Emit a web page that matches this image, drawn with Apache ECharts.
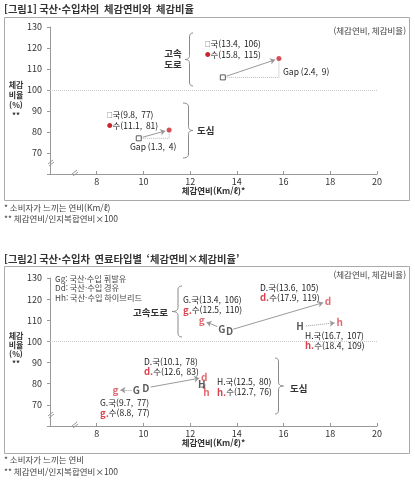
<!DOCTYPE html>
<html lang="ko">
<head>
<meta charset="UTF-8">
<title>국산·수입차 체감연비와 체감비율</title>
<script src="https://cdn.jsdelivr.net/npm/echarts@6.0.0/dist/echarts.min.js"></script>
<style>
    html, body { margin: 0; padding: 0; background: #fff; }
    #chart { width: 415px; height: 480px; }
</style>
</head>
<body>
<div id="chart"></div>
<script>
    // 축 눈금
    var xTicks = [6, 8, 10, 12, 14, 16, 18, 20];
    var yTicks = [60, 70, 80, 90, 100, 110, 120, 130];

    // 그림1 : [체감연비, 체감비율]  (고속도로, 도심)
    var fig1Dom = [[13.4, 106], [9.8, 77]];
    var fig1Imp = [[15.8, 115], [11.1, 81]];

    // 그림2 : 연료타입별 (G 휘발유, D 경유, H 하이브리드)
    var fuelDom = ['G', 'D', 'H'];
    var fuelImp = ['g', 'd', 'h'];
    var fuelNames = ['휘발유', '경유', '하이브리드'];
    var hwyDom = [[13.4, 106], [13.6, 105], [16.7, 107]];
    var hwyImp = [[12.5, 110], [17.9, 119], [18.4, 109]];
    var cityDom = [[9.7, 77], [10.1, 78], [12.5, 80]];
    var cityImp = [[8.8, 77], [12.6, 83], [12.7, 76]];

    var FONT = '"Noto Sans CJK KR", "Noto Sans", sans-serif';
    var RED = '#c9252d';
    var LRED = '#d9434e';
    var INK = '#222';
    var GRAY = '#999';

    var chart = echarts.init(document.getElementById('chart'));

    function xAxisOf(i) {
        return {
            gridIndex: i, type: 'value',
            min: xTicks[0], max: xTicks[xTicks.length - 1], interval: xTicks[1] - xTicks[0],
            name: '체감연비(Km/ℓ)*', nameLocation: 'middle', nameGap: 13,
            nameTextStyle: {fontFamily: FONT, fontSize: 8.5, fontWeight: 'bold', color: '#333'},
            axisLine: {lineStyle: {color: GRAY}},
            axisTick: {inside: true, length: 3, lineStyle: {color: GRAY}},
            axisLabel: {
                fontFamily: FONT, fontSize: 9, color: '#333', margin: 3,
                formatter: function (v) { return v === xTicks[0] ? '' : v; }
            },
            splitLine: {show: false}
        };
    }
    function yAxisOf(i) {
        return {
            gridIndex: i, type: 'value',
            min: yTicks[0], max: yTicks[yTicks.length - 1], interval: yTicks[1] - yTicks[0],
            axisLine: {show: true, lineStyle: {color: GRAY}},
            axisTick: {show: true, length: 3, lineStyle: {color: GRAY}},
            axisLabel: {
                fontFamily: FONT, fontSize: 9, color: '#333', margin: 8,
                formatter: function (v) { return v === yTicks[0] ? '' : v; }
            },
            splitLine: {show: false}
        };
    }

    var line100 = {
        silent: true, symbol: 'none', label: {show: false},
        lineStyle: {type: 'dotted', color: '#c8c8c8', width: 1},
        data: [{yAxis: 100}]
    };

    function fmt(p) { return '(' + p[0].toFixed(1) + ',  ' + p[1] + ')'; }

    // 그림2 글자 표식
    var nudge = {G: -1, D: 2};
    function letters(pts, names, red, gi, useNudge) {
        return {
            type: 'scatter', xAxisIndex: gi, yAxisIndex: gi, z: 5,
            symbolSize: 8, itemStyle: {color: 'rgba(0,0,0,0)'},
            label: {
                show: true, position: 'inside', formatter: '{b}',
                fontFamily: FONT, fontSize: 10, fontWeight: 'bold',
                color: red ? LRED : '#333'
            },
            data: pts.map(function (p, k) {
                var d = {name: names[k], value: p};
                if (useNudge && nudge[names[k]]) d.label = {offset: [nudge[names[k]], 0]};
                return d;
            })
        };
    }

    var series = [
        {
            type: 'scatter', xAxisIndex: 0, yAxisIndex: 0, z: 5,
            symbol: 'rect', symbolSize: 5,
            itemStyle: {color: '#fff', borderColor: '#333', borderWidth: 1},
            data: fig1Dom
        },
        {
            type: 'scatter', xAxisIndex: 0, yAxisIndex: 0, z: 5,
            symbol: 'circle', symbolSize: 5,
            itemStyle: {color: RED},
            data: fig1Imp,
            markLine: line100
        },
        letters(hwyDom, fuelDom, false, 1, true),
        letters(hwyImp, fuelImp, true, 1, false),
        letters(cityDom, fuelDom, false, 1, false),
        letters(cityImp, fuelImp, true, 1, false),
        {
            type: 'scatter', xAxisIndex: 1, yAxisIndex: 1, data: [],
            markLine: line100
        }
    ];

    // 괄호 (polyline 으로 곡선 근사)
    function quad(pts, a, c, b) {
        for (var i = 1; i <= 6; i++) {
            var t = i / 6, u = 1 - t;
            pts.push([u * u * a[0] + 2 * u * t * c[0] + t * t * b[0],
                      u * u * a[1] + 2 * u * t * c[1] + t * t * b[1]]);
        }
    }
    function brace(xe, xs, xt, y1, y2) {
        var ym = (y1 + y2) / 2, r = 4;
        var pts = [[xe, y1]];
        quad(pts, [xe, y1], [xs, y1], [xs, y1 + r]);
        pts.push([xs, ym - r]);
        quad(pts, [xs, ym - r], [xs, ym], [xt, ym]);
        quad(pts, [xt, ym], [xs, ym], [xs, ym + r]);
        pts.push([xs, y2 - r]);
        quad(pts, [xs, y2 - r], [xs, y2], [xe, y2]);
        return {type: 'polyline', shape: {points: pts}, style: {fill: null, stroke: '#8a8a8a', lineWidth: 1}};
    }
    function breakMark(x, y) {
        return {
            type: 'group', x: x, y: y,
            children: [
                {type: 'line', shape: {x1: -3, y1: 1, x2: 2, y2: -3}, style: {stroke: '#999', lineWidth: 1}},
                {type: 'line', shape: {x1: -2, y1: 3, x2: 3, y2: -1}, style: {stroke: '#999', lineWidth: 1}}
            ]
        };
    }
    function txt(x, y, text, o) {
        o = o || {};
        var st = {
            text: text, fontFamily: FONT, fontSize: o.size || 8.5,
            fontWeight: o.bold ? 'bold' : 'normal', fill: o.color || INK,
            align: o.align || 'left', verticalAlign: 'middle'
        };
        if (o.lh) st.lineHeight = o.lh;
        if (o.rich) st.rich = o.rich;
        return {type: 'text', x: x, y: y, z: 10, style: st};
    }
    var richSym = {
        sq: {fontFamily: FONT, fontSize: 5.5, fill: '#333'},
        dot: {fontFamily: FONT, fontSize: 5.5, fill: RED},
        r: {fontFamily: FONT, fontSize: 9.5, fontWeight: 'bold', fill: LRED}
    };
    function gap(a, b) {
        return 'Gap (' + (b[0] - a[0]).toFixed(1) + ',  ' + (b[1] - a[1]) + ')';
    }

    var graphic = [
        {type: 'rect', shape: {x: 4.5, y: 17.5, width: 405, height: 183}, style: {fill: null, stroke: '#aaa', lineWidth: 1}},
        {type: 'rect', shape: {x: 4.5, y: 266.5, width: 405, height: 187}, style: {fill: null, stroke: '#aaa', lineWidth: 1}},

        txt(4, 9, '[그림1] 국산·수입차의  체감연비와  체감비율', {size: 10.3, bold: true, color: '#333'}),
        txt(406, 31, '(체감연비, 체감비율)', {size: 8.5, align: 'right', color: '#444'}),
        txt(16, 100, '체감\n비율\n(%)\n**', {size: 8, bold: true, align: 'center', lh: 10, color: '#333'}),
        txt(4, 208, '* 소비자가 느끼는 연비(Km/ℓ)', {size: 8.5, color: '#444'}),
        txt(4, 219, '** 체감연비/인지복합연비×100', {size: 8.5, color: '#444'}),

        txt(205, 44, '{sq|□}국' + fmt(fig1Dom[0]), {rich: richSym}),
        txt(205, 55, '{dot|●}수' + fmt(fig1Imp[0]), {rich: richSym}),
        txt(173, 59, '고속\n도로', {size: 9.5, bold: true, align: 'center', lh: 11, color: '#333'}),
        txt(283, 72, gap(fig1Dom[0], fig1Imp[0]), {size: 8.5}),
        txt(107, 115, '{sq|□}국' + fmt(fig1Dom[1]), {rich: richSym}),
        txt(107, 126, '{dot|●}수' + fmt(fig1Imp[1]), {rich: richSym}),
        txt(130, 147, gap(fig1Dom[1], fig1Imp[1]), {size: 8.5}),
        txt(197, 130, '도심', {size: 9.5, bold: true, color: '#333'}),
        brace(193, 189.5, 185, 33, 86),
        brace(183, 188.5, 193, 103, 158),
        breakMark(51, 163),
        breakMark(75, 173),

        txt(4, 259, '[그림2] 국산·수입차  연료타입별  ‘체감연비×체감비율’', {size: 10.3, bold: true, color: '#333'}),
        txt(406, 275, '(체감연비, 체감비율)', {size: 8.5, align: 'right', color: '#444'}),
        txt(16, 349, '체감\n비율\n(%)\n**', {size: 8, bold: true, align: 'center', lh: 9, color: '#333'}),
        txt(55, 278.5, fuelDom[0] + fuelImp[0] + ': 국산·수입 ' + fuelNames[0], {size: 8.2, color: '#444'}),
        txt(55, 288, fuelDom[1] + fuelImp[1] + ': 국산·수입 ' + fuelNames[1], {size: 8.2, color: '#444'}),
        txt(55, 297.5, fuelDom[2] + fuelImp[2] + ': 국산·수입 ' + fuelNames[2], {size: 8.2, color: '#444'}),
        txt(4, 460, '* 소비자가 느끼는 연비', {size: 8.5, color: '#444'}),
        txt(4, 471.5, '** 체감연비/인지복합연비×100', {size: 8.5, color: '#444'}),

        txt(183, 299.5, fuelDom[0] + '.국' + fmt(hwyDom[0]), {}),
        txt(183, 310, '{r|' + fuelImp[0] + '.}수' + fmt(hwyImp[0]), {rich: richSym}),
        txt(260, 287.5, fuelDom[1] + '.국' + fmt(hwyDom[1]), {}),
        txt(260, 297.5, '{r|' + fuelImp[1] + '.}수' + fmt(hwyImp[1]), {rich: richSym}),
        txt(305, 335.5, fuelDom[2] + '.국' + fmt(hwyDom[2]), {}),
        txt(305, 345.5, '{r|' + fuelImp[2] + '.}수' + fmt(hwyImp[2]), {rich: richSym}),
        txt(133, 312.5, '고속도로', {size: 9.5, bold: true, color: '#333'}),
        brace(182, 178, 172, 286, 337),

        txt(144, 361.5, fuelDom[1] + '.국' + fmt(cityDom[1]), {}),
        txt(144, 371.5, '{r|' + fuelImp[1] + '.}수' + fmt(cityImp[1]), {rich: richSym}),
        txt(217, 382, fuelDom[2] + '.국' + fmt(cityDom[2]), {}),
        txt(217, 392, '{r|' + fuelImp[2] + '.}수' + fmt(cityImp[2]), {rich: richSym}),
        txt(100, 403, fuelDom[0] + '.국' + fmt(cityDom[0]), {}),
        txt(100, 413, '{r|' + fuelImp[0] + '.}수' + fmt(cityImp[0]), {rich: richSym}),
        txt(290, 388, '도심', {size: 9.5, bold: true, color: '#333'}),
        brace(275, 278.5, 283.5, 358, 414),
        breakMark(51, 415),
        breakMark(75, 425)
    ];

    var option = {
        animation: false,
        backgroundColor: '#fff',
        grid: [
            {left: 50, right: 38, top: 27, bottom: 306},
            {left: 50, right: 38, top: 278, bottom: 54}
        ],
        xAxis: [xAxisOf(0), xAxisOf(1)],
        yAxis: [yAxisOf(0), yAxisOf(1)],
        series: series,
        graphic: graphic
    };
    chart.setOption(option);

    // 화살표: 표식 사이를 픽셀 단위로 조금 줄여서 그림
    function trimmed(gi, a, b, t0, t1) {
        var p = chart.convertToPixel({gridIndex: gi}, a);
        var q = chart.convertToPixel({gridIndex: gi}, b);
        var dx = q[0] - p[0], dy = q[1] - p[1];
        var L = Math.sqrt(dx * dx + dy * dy);
        var p2 = [p[0] + dx * t0 / L, p[1] + dy * t0 / L];
        var q2 = [q[0] - dx * t1 / L, q[1] - dy * t1 / L];
        return [chart.convertFromPixel({gridIndex: gi}, p2), chart.convertFromPixel({gridIndex: gi}, q2)];
    }
    function arrows(gi, list, dash) {
        return {
            type: 'lines', coordinateSystem: 'cartesian2d', xAxisIndex: gi, yAxisIndex: gi, z: 3,
            symbol: ['none', 'arrow'], symbolSize: 5, silent: true,
            lineStyle: {color: GRAY, width: 1, type: dash, opacity: 1},
            data: list.map(function (c) { return {coords: c}; })
        };
    }

    // 그림1: 국 -> 수 화살표, 점선 삼각형
    series.push(arrows(0, [
        trimmed(0, fig1Dom[0], fig1Imp[0], 4, 4),
        trimmed(0, fig1Dom[1], fig1Imp[1], 4, 4)
    ], 'solid'));
    series.push({
        type: 'lines', coordinateSystem: 'cartesian2d', xAxisIndex: 0, yAxisIndex: 0, z: 2,
        polyline: true, silent: true,
        lineStyle: {color: '#b5b5b5', width: 1, type: 'dotted', opacity: 1},
        data: fig1Dom.map(function (d, k) {
            return {coords: [d, [fig1Imp[k][0], d[1]], fig1Imp[k]]};
        })
    });

    // 그림2: 연료별 국 -> 수
    series.push(arrows(1, [
        trimmed(1, hwyDom[0], hwyImp[0], 6, 5),
        trimmed(1, hwyDom[1], hwyImp[1], 6, 5),
        trimmed(1, cityDom[1], cityImp[1], 5, 5)
    ], 'solid'));
    series.push(arrows(1, [
        trimmed(1, hwyDom[2], hwyImp[2], 6, 5),
        trimmed(1, cityDom[0], cityImp[0], 5, 5),
        trimmed(1, cityDom[2], cityImp[2], 3, 3)
    ], 'dotted'));

    chart.setOption(option);
</script>
</body>
</html>
